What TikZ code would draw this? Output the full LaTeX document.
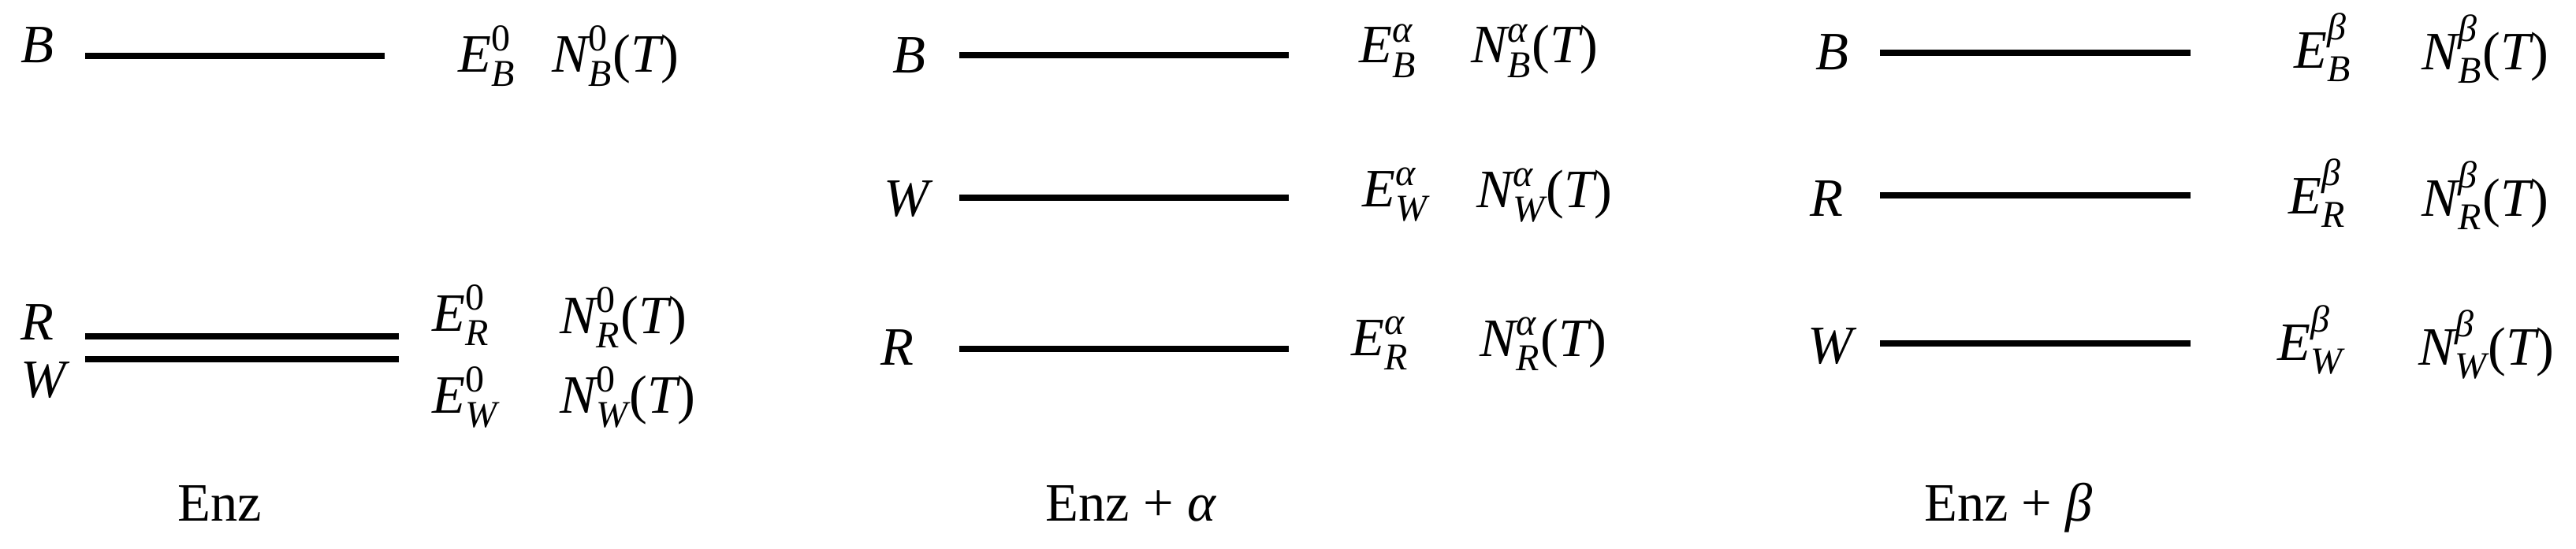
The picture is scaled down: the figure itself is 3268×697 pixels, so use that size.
\documentclass[tikz,border=0pt]{standalone}
\usepackage{amsmath}
\usepackage{fontspec}
\setmainfont{Liberation Serif}
\newcommand{\vi}[1]{\text{\itshape #1}}
\newcommand{\vu}[1]{\text{\upshape #1}}
\newcommand{\Elab}[2]{$\vi{E}^{#1}_{\vi{#2}}$}
\newcommand{\Nlab}[2]{$\vi{N}^{#1}_{\vi{#2}}\vu{(}\vi{T}\vu{)}$}
\begin{document}
\begin{tikzpicture}[x=0.01cm,y=-0.01cm,
  every node/.style={inner sep=0pt,font=\fontsize{19.5}{22}\selectfont},
  lab/.style={anchor=base west},
  ttl/.style={anchor=base},
  level/.style={line width=2pt}]
\useasboundingbox (0,0) rectangle (3268,697);
% ---------- panel 1: Enz ----------
\node[lab] (B1) at (26,80) {\itshape B};
\node[lab] (R1) at (26,431) {\itshape R};
\node[lab] (W1) at (26,504) {\itshape W};
\coordinate (b1s) at (108,71);  \coordinate (b1e) at (488,71);
\coordinate (r1s) at (108,427); \coordinate (r1e) at (506,427);
\coordinate (w1s) at (108,456); \coordinate (w1e) at (506,456);
\draw[level] (b1s) -- (b1e);
\draw[level] (r1s) -- (r1e);
\draw[level] (w1s) -- (w1e);
\node[lab] (EB1) at (581,91) {\Elab{\vu{0}}{B}};
\node[lab] (NB1) at (700,91) {\Nlab{\vu{0}}{B}};
\node[lab] (ER1) at (548,420) {\Elab{\vu{0}}{R}};
\node[lab] (NR1) at (710,423) {\Nlab{\vu{0}}{R}};
\node[lab] (EW1) at (548,524) {\Elab{\vu{0}}{W}};
\node[lab] (NW1) at (710,524) {\Nlab{\vu{0}}{W}};
\node[ttl] (T1) at (279,661) {Enz};
% ---------- panel 2: Enz + alpha ----------
\node[lab] (B2) at (1132,92) {\itshape B};
\node[lab] (W2) at (1121,274) {\itshape W};
\node[lab] (R2) at (1117,463) {\itshape R};
\coordinate (b2s) at (1217,70);  \coordinate (b2e) at (1635,70);
\coordinate (w2s) at (1217,251); \coordinate (w2e) at (1635,251);
\coordinate (r2s) at (1217,443); \coordinate (r2e) at (1635,443);
\draw[level] (b2s) -- (b2e);
\draw[level] (w2s) -- (w2e);
\draw[level] (r2s) -- (r2e);
\node[lab] (EB2) at (1724,80) {\Elab{\vi{α}}{B}};
\node[lab] (NB2) at (1866,80) {\Nlab{\vi{α}}{B}};
\node[lab] (EW2) at (1728,262) {\Elab{\vi{α}}{W}};
\node[lab] (NW2) at (1873,263) {\Nlab{\vi{α}}{W}};
\node[lab] (ER2) at (1714,451) {\Elab{\vi{α}}{R}};
\node[lab] (NR2) at (1877,452) {\Nlab{\vi{α}}{R}};
\node[ttl] (T2) at (1435,661) {Enz + \textit{α}};
% ---------- panel 3: Enz + beta ----------
\node[lab] (B3) at (2303,88) {\itshape B};
\node[lab] (R3) at (2296,274) {\itshape R};
\node[lab] (W3) at (2293,461) {\itshape W};
\coordinate (b3s) at (2385,67);  \coordinate (b3e) at (2779,67);
\coordinate (r3s) at (2385,248); \coordinate (r3e) at (2779,248);
\coordinate (w3s) at (2385,436); \coordinate (w3e) at (2779,436);
\draw[level] (b3s) -- (b3e);
\draw[level] (r3s) -- (r3e);
\draw[level] (w3s) -- (w3e);
\node[lab] (EB3) at (2910,86) {\Elab{\vi{β}}{B}};
\node[lab] (NB3) at (3072,88) {\Nlab{\vi{β}}{B}};
\node[lab] (ER3) at (2903,271) {\Elab{\vi{β}}{R}};
\node[lab] (NR3) at (3072,274) {\Nlab{\vi{β}}{R}};
\node[lab] (EW3) at (2889,457) {\Elab{\vi{β}}{W}};
\node[lab] (NW3) at (3068,463) {\Nlab{\vi{β}}{W}};
\node[ttl] (T3) at (2548,661) {Enz + \textit{β}};
\end{tikzpicture}
\end{document}
